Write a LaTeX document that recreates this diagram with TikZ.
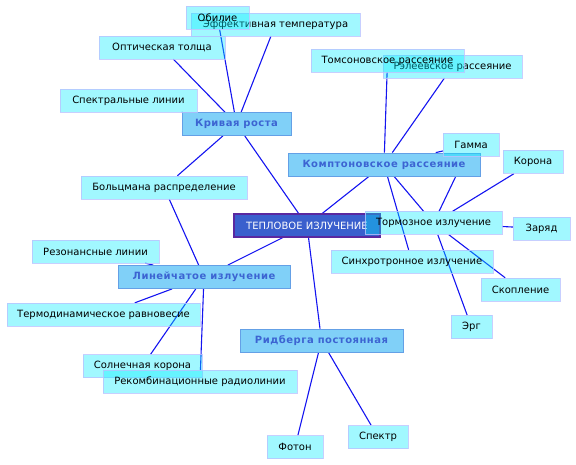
\documentclass[tikz,border=0pt]{standalone}
\usepackage{fontspec}
\setmainfont{DejaVu Sans}
\newfontfamily\hubfont{DejaVu Sans}[LetterSpace=5]
\usetikzlibrary{positioning,backgrounds}
\definecolor{leafcyan}{RGB}{0,236,255}
\definecolor{leafline}{RGB}{185,195,255}
\definecolor{hubfill}{RGB}{128,208,248}
\definecolor{hubline}{RGB}{100,160,230}
\definecolor{hubtext}{RGB}{60,100,210}
\definecolor{rootfill}{RGB}{58,95,205}
\definecolor{rootline}{RGB}{90,40,160}
\definecolor{edgeblue}{RGB}{20,20,240}

\begin{document}
\begin{tikzpicture}[x=1pt,y=-1pt,
  every node/.style={font=\fontsize{10}{12}\selectfont, inner sep=0pt},
  leaf/.style={draw=leafline, fill=leafcyan, fill opacity=0.37, draw opacity=0.8,
    text opacity=1, minimum height=23, minimum width=#1},
  hub/.style={draw=hubline, fill=hubfill, text=hubtext, line width=0.8,
    font=\hubfont\bfseries\fontsize{10}{12}\selectfont, minimum height=23, minimum width=#1},
  root/.style={draw=rootline, fill=rootfill, text=white, line width=1.2,
    minimum height=23, minimum width=146},
  edge/.style={draw=edgeblue, line width=1.1}]
\useasboundingbox (0,0) rectangle (576,465);

% centre and hubs
\node[root] (teplo) at (307,225.5) {ТЕПЛОВОЕ ИЗЛУЧЕНИЕ};
\node[hub=109] (kriv) at (236.5,124) {Кривая роста};
\node[hub=192] (kompt) at (384,164.5) {Комптоновское рассеяние};
\node[hub=172] (lin) at (204,277) {Линейчатое излучение};
\node[hub=163] (ryd) at (321.5,340.5) {Ридберга постоянная};

% leaves of Кривая роста
\node[leaf=169] (eff) at (275.5,24.5) {Эффективная температура};
\node[leaf=63] (obil) at (217.5,17.5) {Обилие};
\node[leaf=126] (opt) at (162,47.5) {Оптическая толща};
\node[leaf=137] (spek) at (128.5,100.5) {Спектральные линии};
\node[leaf=166] (bolc) at (164,187.5) {Больцмана распределение};

% leaves of Комптоновское рассеяние
\node[leaf=139] (rel) at (452.5,66.5) {Рэлеевское рассеяние};
\node[leaf=153] (toms) at (387.5,60.5) {Томсоновское рассеяние};
\node[leaf=56] (gamma) at (471,144.5) {Гамма};
\node[leaf=60] (korona) at (533,162) {Корона};
\node[leaf=162] (sinh) at (412,261.5) {Синхротронное излучение};
\node[leaf=137] (torm) at (433.5,223) {Тормозное излучение};
\node[leaf=57] (zaryad) at (541.5,228.5) {Заряд};
\node[leaf=79] (skopl) at (520.5,289.5) {Скопление};
\node[leaf=41] (erg) at (471.5,327) {Эрг};

% leaves of Линейчатое излучение
\node[leaf=127] (rez) at (95.5,251.5) {Резонансные линии};
\node[leaf=193] (termo) at (103.5,314.5) {Термодинамическое равновесие};
\node[leaf=119] (soln) at (142.5,366) {Солнечная корона};
\node[leaf=194] (rekomb) at (200,381.5) {Рекомбинационные радиолинии};

% leaves of Ридберга постоянная
\node[leaf=56] (foton) at (295,447) {Фотон};
\node[leaf=60] (spektr) at (378,437) {Спектр};

\begin{scope}[on background layer]
\foreach \a/\b in {teplo/kriv, teplo/kompt, teplo/lin, teplo/ryd,
    kriv/obil, kriv/eff, kriv/opt, kriv/spek, kriv/bolc,
    kompt/toms, kompt/rel, kompt/gamma, kompt/torm, kompt/sinh,
    torm/gamma, torm/korona, torm/zaryad, torm/skopl, torm/erg,
    lin/bolc, lin/rez, lin/termo, lin/soln, lin/rekomb,
    ryd/foton, ryd/spektr}
  \draw[edge] (\a) -- (\b);
\end{scope}
\end{tikzpicture}
\end{document}
